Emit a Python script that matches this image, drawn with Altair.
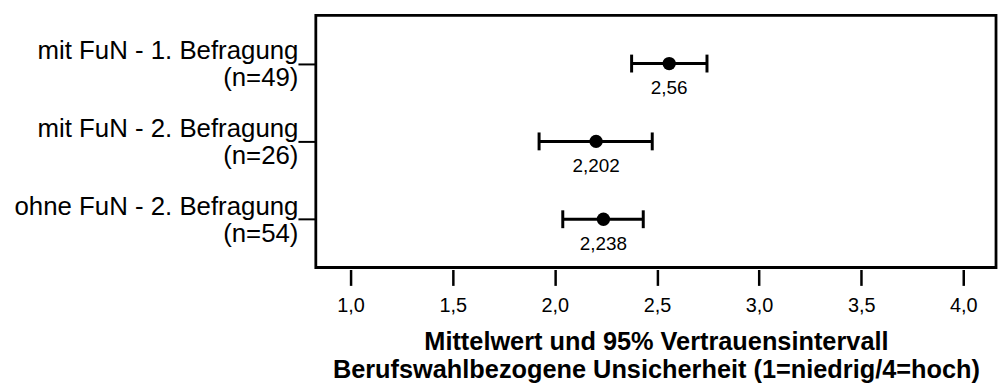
import altair as alt
import pandas as pd

groups = ["mit FuN - 1. Befragung|(n=49)", "mit FuN - 2. Befragung|(n=26)", "ohne FuN - 2. Befragung|(n=54)"]
means = [2.56, 2.202, 2.238]
ci_low = [2.376, 1.923, 2.039]
ci_high = [2.745, 2.477, 2.433]
x_ticks = [1.0, 1.5, 2.0, 2.5, 3.0, 3.5, 4.0]
x_title = ["Mittelwert und 95% Vertrauensintervall", "Berufswahlbezogene Unsicherheit (1=niedrig/4=hoch)"]

df = pd.DataFrame({"group": groups, "mean": means, "lo": ci_low, "hi": ci_high})

FONT = "Liberation Sans, Arial, Helvetica, sans-serif"

xs = alt.Scale(domain=[0.83, 4.16], nice=False, zero=False)
ys = alt.Scale(type="point", padding=0.62)

x_axis = alt.Axis(
    values=x_ticks, domain=False, grid=False, tickSize=16, tickWidth=2.5, tickColor="black",
    offset=2, labelPadding=10, labelFontSize=20, labelFont=FONT, labelColor="black",
    labelExpr="replace(format(datum.value, '.1f'), '.', ',')",
    title=x_title, titleFont=FONT, titleFontSize=25.5, titleFontWeight="bold", titleColor="black",
    titleLineHeight=28, titleBaseline="alphabetic", titleY=81, titleX=342.5, titleAlign="center",
)
y_axis = alt.Axis(
    domain=False, grid=False, tickSize=18, tickWidth=2, tickColor="black",
    labelPadding=0, labelAlign="right", labelBaseline="alphabetic", labelOffset=-5,
    labelFontSize=26, labelFont=FONT, labelColor="black", labelLineHeight=27, labelLimit=400,
    labelExpr="split(datum.label, '|')", title=None,
)

base = alt.Chart(df)
yenc = alt.Y("group:N", sort=groups, scale=ys, axis=y_axis)

bars = base.mark_rule(color="black", strokeWidth=3).encode(
    x=alt.X("lo:Q", scale=xs, axis=x_axis), x2="hi:Q", y=yenc
)
cap_lo = base.mark_tick(color="black", opacity=1, orient="vertical", size=18, thickness=3).encode(
    x=alt.X("lo:Q", scale=xs), y=alt.Y("group:N", sort=groups, scale=ys)
)
cap_hi = base.mark_tick(color="black", opacity=1, orient="vertical", size=18, thickness=3).encode(
    x=alt.X("hi:Q", scale=xs), y=alt.Y("group:N", sort=groups, scale=ys)
)
dots = base.mark_circle(color="black", opacity=1, size=180).encode(
    x=alt.X("mean:Q", scale=xs), y=alt.Y("group:N", sort=groups, scale=ys)
)
labels = base.transform_calculate(
    lab="replace(toString(datum.mean), '.', ',')"
).mark_text(font=FONT, fontSize=19, color="black", baseline="middle", align="center", dy=25).encode(
    x=alt.X("mean:Q", scale=xs), y=alt.Y("group:N", sort=groups, scale=ys), text="lab:N"
)

chart = alt.layer(bars, cap_lo, cap_hi, dots, labels).properties(
    width=685, height=254,
    padding={"left": 310, "top": 6, "right": 2, "bottom": 120},
    autosize=alt.AutoSizeParams(type="none"),
    background="white",
).configure_view(stroke="black", strokeWidth=2.8)

chart.save("out.html", embed_options={"renderer": "svg", "actions": False})
